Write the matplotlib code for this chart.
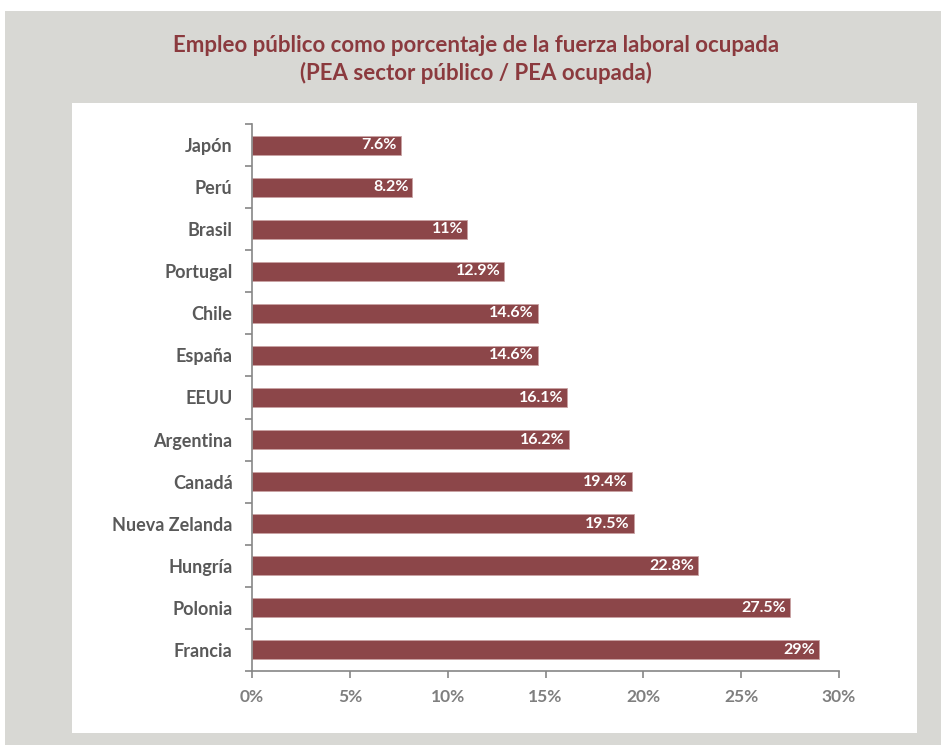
import numpy as np
import matplotlib.pyplot as plt
from matplotlib.patches import Rectangle
from matplotlib.ticker import FixedLocator, FuncFormatter

paises = ['Japón', 'Perú', 'Brasil', 'Portugal', 'Chile', 'España', 'EEUU',
          'Argentina', 'Canadá', 'Nueva Zelanda', 'Hungría', 'Polonia', 'Francia']
valores = [7.6, 8.2, 11, 12.9, 14.6, 14.6, 16.1, 16.2, 19.4, 19.5, 22.8, 27.5, 29]
etiquetas = ['7.6%', '8.2%', '11%', '12.9%', '14.6%', '14.6%', '16.1%',
             '16.2%', '19.4%', '19.5%', '22.8%', '27.5%', '29%']

plt.rcParams['font.family'] = ['Lato', 'DejaVu Sans']

W, H = 941, 745
fig = plt.figure(figsize=(W / 100, H / 100), dpi=100)
fig.patch.set_facecolor('white')

# gray frame and white plotting panel
fig.patches.append(Rectangle((5 / W, 0), 1 - 5 / W, 1 - 11 / H, transform=fig.transFigure,
                             facecolor='#d8d8d4', edgecolor='none', zorder=-2))
fig.patches.append(Rectangle((72 / W, 1 - 733 / H), (917 - 72) / W, (733 - 103) / H,
                             transform=fig.transFigure, facecolor='white',
                             edgecolor='none', zorder=-1))

fig.text(476 / W, 1 - 45 / H, 'Empleo público como porcentaje de la fuerza laboral ocupada',
         ha='center', va='center', color='#8b3a3e', fontsize=16, fontweight='bold')
fig.text(476 / W, 1 - 73 / H, '(PEA sector público / PEA ocupada)',
         ha='center', va='center', color='#8b3a3e', fontsize=16, fontweight='bold')

ax = fig.add_axes([252 / W, 1 - 671 / H, (839 - 252) / W, (671 - 124) / H])
ax.set_facecolor('none')
ax.set_zorder(2)

y = np.arange(len(paises))
ax.barh(y, valores, height=0.45, color='#8c4649', edgecolor='#c9a3a4', linewidth=0.6)
for yi, v, t in zip(y, valores, etiquetas):
    ax.text(v - 0.2, yi, t, ha='right', va='center', color='white',
            fontsize=11.5, fontweight='bold')

ax.set_ylim(len(paises) - 0.5, -0.5)
ax.set_xlim(0, 30)
ax.set_yticks(y)
ax.set_yticklabels(paises, fontsize=13, fontweight='bold', color='#595959')
ax.yaxis.set_minor_locator(FixedLocator(np.arange(-0.5, len(paises), 1)))
ax.tick_params(axis='y', which='major', length=0, pad=14)
ax.tick_params(axis='y', which='minor', length=5, color='#868686', width=1.2)

ax.set_xticks(np.arange(0, 31, 5))
ax.xaxis.set_major_formatter(FuncFormatter(lambda v, p: f'{v:.0f}%'))
ax.tick_params(axis='x', length=5, color='#868686', width=1.2, labelsize=12.5,
               labelcolor='#7f7f7f', pad=8)
for lbl in ax.get_xticklabels():
    lbl.set_fontweight('bold')

for s in ['top', 'right']:
    ax.spines[s].set_visible(False)
for s in ['left', 'bottom']:
    ax.spines[s].set_color('#868686')
    ax.spines[s].set_linewidth(1.2)

fig.savefig('out.png', dpi=100)
